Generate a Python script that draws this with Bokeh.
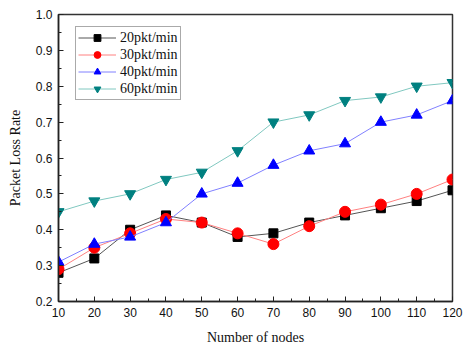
from bokeh.plotting import figure
from bokeh.models import FixedTicker, Range1d, Legend, LegendItem, PrintfTickFormatter
from bokeh.embed import file_html
from bokeh.resources import INLINE

nodes = [10, 20, 30, 40, 50, 60, 70, 80, 90, 100, 110, 120]
s20 = [0.28, 0.32, 0.40, 0.44, 0.42, 0.38, 0.39, 0.42, 0.44, 0.46, 0.48, 0.51]
s30 = [0.29, 0.35, 0.39, 0.43, 0.42, 0.39, 0.36, 0.41, 0.45, 0.47, 0.50, 0.54]
s40 = [0.31, 0.36, 0.38, 0.42, 0.50, 0.53, 0.58, 0.62, 0.64, 0.70, 0.72, 0.76]
s60 = [0.45, 0.48, 0.50, 0.54, 0.56, 0.62, 0.70, 0.72, 0.76, 0.77, 0.80, 0.81]
labels = ["20pkt/min", "30pkt/min", "40pkt/min", "60pkt/min"]
x_ticks = [10, 20, 30, 40, 50, 60, 70, 80, 90, 100, 110, 120]
y_ticks = [0.2, 0.3, 0.4, 0.5, 0.6, 0.7, 0.8, 0.9, 1.0]

p = figure(width=465, height=347, output_backend="svg", toolbar_location=None,
           x_range=Range1d(10, 120), y_range=Range1d(0.2, 1.0),
           min_border_left=58, min_border_right=13, min_border_top=14, min_border_bottom=44)
p.grid.visible = False
p.outline_line_color = "#333333"
p.outline_line_width = 1.5
p.background_fill_color = "white"
p.border_fill_color = "white"

p.xaxis.ticker = FixedTicker(ticks=x_ticks, minor_ticks=[v + 5 for v in x_ticks[:-1]])
p.yaxis.ticker = FixedTicker(ticks=y_ticks, minor_ticks=[round(v + 0.05, 2) for v in y_ticks[:-1]])
p.yaxis.formatter = PrintfTickFormatter(format="%.1f")
for ax in (p.xaxis, p.yaxis):
    ax.major_tick_in = 5
    ax.major_tick_out = 0
    ax.minor_tick_in = 3
    ax.minor_tick_out = 0
    ax.axis_line_color = "#222222"
    ax.axis_line_width = 1.5
    ax.major_tick_line_color = "#222222"
    ax.minor_tick_line_color = "#222222"
    ax.major_label_text_font = "Liberation Sans"
    ax.major_label_text_font_size = "12px"
    ax.major_label_text_color = "#111111"
    ax.axis_label_text_font = "Liberation Serif"
    ax.axis_label_text_font_size = "14px"
    ax.axis_label_text_font_style = "normal"
    ax.axis_label_text_color = "#111111"
p.xaxis.axis_label = "Number of nodes"
p.yaxis.axis_label = "Packet Loss Rate"
p.xaxis.major_label_standoff = 6
p.yaxis.major_label_standoff = 6
p.xaxis.axis_label_standoff = 10
p.yaxis.axis_label_standoff = 10

series = [s20, s30, s40, s60]
line_colors = ["#555555", "#ff8080", "#8080ff", "#80c8c0"]
marker_colors = ["#000000", "#ff0000", "#0000ff", "#008080"]
markers = ["square", "circle", "triangle", "inverted_triangle"]
sizes = [9, 11, 11, 11]

items = []
for s, lc, mc, mk, sz, lab in zip(series, line_colors, marker_colors, markers, sizes, labels):
    l = p.line(nodes, s, line_color=lc, line_width=1)
    m = p.scatter(nodes, s, marker=mk, size=sz, fill_color=mc, line_color=mc)
    items.append(LegendItem(label=lab, renderers=[l, m]))

legend = Legend(items=items, location=(17, 201))
legend.label_text_font = "Liberation Serif"
legend.label_text_font_size = "14px"
legend.label_text_color = "#111111"
legend.border_line_color = "#555555"
legend.border_line_width = 1
legend.margin = 0
legend.padding = 2
legend.spacing = 0
legend.label_height = 17
legend.glyph_height = 17
legend.glyph_width = 38
legend.label_standoff = 4
legend.background_fill_alpha = 1.0
p.add_layout(legend)

open("out.html", "w").write(file_html(p, INLINE))
